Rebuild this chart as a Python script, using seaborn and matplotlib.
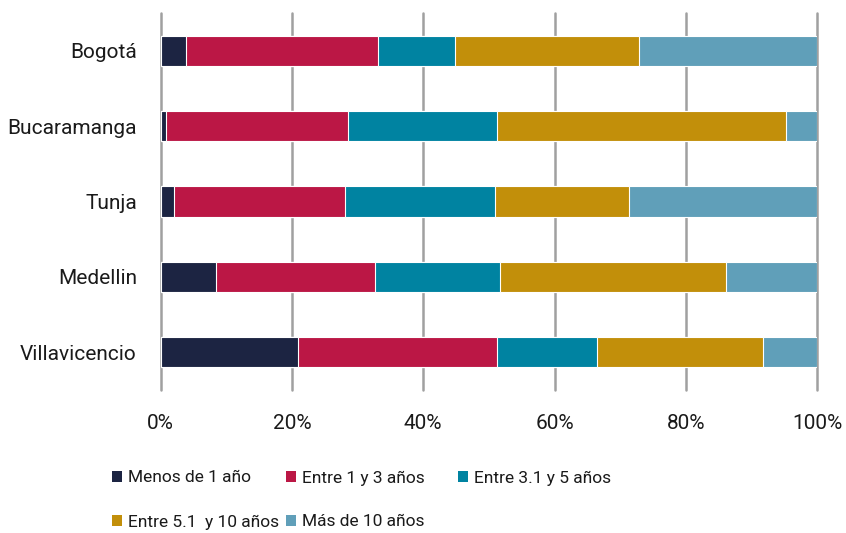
import numpy as np
import pandas as pd
import matplotlib
matplotlib.use("Agg")
import matplotlib.pyplot as plt
import seaborn as sns
from matplotlib.patches import Patch

# -------------------------------
# data (% of respondents per city)
# -------------------------------
ciudades = ["Bogotá", "Bucaramanga", "Tunja", "Medellin", "Villavicencio"]
series = ["Menos de 1 año", "Entre 1 y 3 años", "Entre 3.1 y 5 años",
          "Entre 5.1  y 10 años", "Más de 10 años"]
menos_1 = [3.9, 0.9, 2.1, 8.5, 21.0]
entre_1_3 = [29.2, 27.7, 26.0, 24.2, 30.3]
entre_3_5 = [11.7, 22.7, 22.8, 19.0, 15.1]
entre_5_10 = [28.1, 43.9, 20.5, 34.4, 25.4]
mas_10 = [27.1, 4.8, 28.6, 13.9, 8.2]
x_ticks = [0, 20, 40, 60, 80, 100]
x_labels = ["0%", "20%", "40%", "60%", "80%", "100%"]

colores = ["#1c2442", "#bb1745", "#0083a1", "#c28f0a", "#609fb9"]

df = pd.DataFrame({"ciudad": ciudades, series[0]: menos_1, series[1]: entre_1_3,
                   series[2]: entre_3_5, series[3]: entre_5_10, series[4]: mas_10})
cum = df[series].cumsum(axis=1)

sns.set_theme(style="white")
plt.rcParams["font.family"] = ["Roboto", "DejaVu Sans"]

fig = plt.figure(figsize=(8.46, 5.33), dpi=100)
ax = fig.add_axes([160.5 / 846, 1 - 390 / 533, (817.3 - 160.5) / 846, (390 - 13) / 533])

# draw stacked bars: cumulative totals, back to front
for s, c in reversed(list(zip(series, colores))):
    sns.barplot(x=cum[s], y=df["ciudad"], order=ciudades, orient="h", color=c,
                width=0.4, edgecolor="white", linewidth=0.8, ax=ax, saturation=1)

ax.set_xlim(0, 100)
ax.set_ylim(4.5, -0.5)
ax.set_xticks(x_ticks)
ax.set_xticklabels(x_labels)
ax.set_xlabel("")
ax.set_ylabel("")
ax.set_axisbelow(True)
ax.grid(axis="x", color="#a0a0a0", linewidth=1.8)
ax.grid(axis="y", visible=False)
for ln in ax.get_xgridlines():
    ln.set_clip_on(False)
sns.despine(ax=ax, left=True, bottom=True)
ax.tick_params(axis="x", length=0, pad=17, labelsize=15, colors="#1a1a1a")
ax.tick_params(axis="y", length=0, pad=17, labelsize=15, colors="#1a1a1a")

# legend laid out like the original (row by row, fixed columns)
pos = [(112, 478), (286, 478), (458, 478), (112, 522), (286, 522)]
for s, c, (px, py) in zip(series, colores, pos):
    fig.legend(handles=[Patch(facecolor=c, edgecolor="none")], labels=[s],
               loc="center left", bbox_to_anchor=(px / 846, 1 - py / 533),
               frameon=False, fontsize=12.5, handlelength=0.6, handleheight=0.6,
               handletextpad=0.3, borderpad=0, borderaxespad=0,
               labelcolor="#1a1a1a")

fig.savefig("out.png", dpi=100)
